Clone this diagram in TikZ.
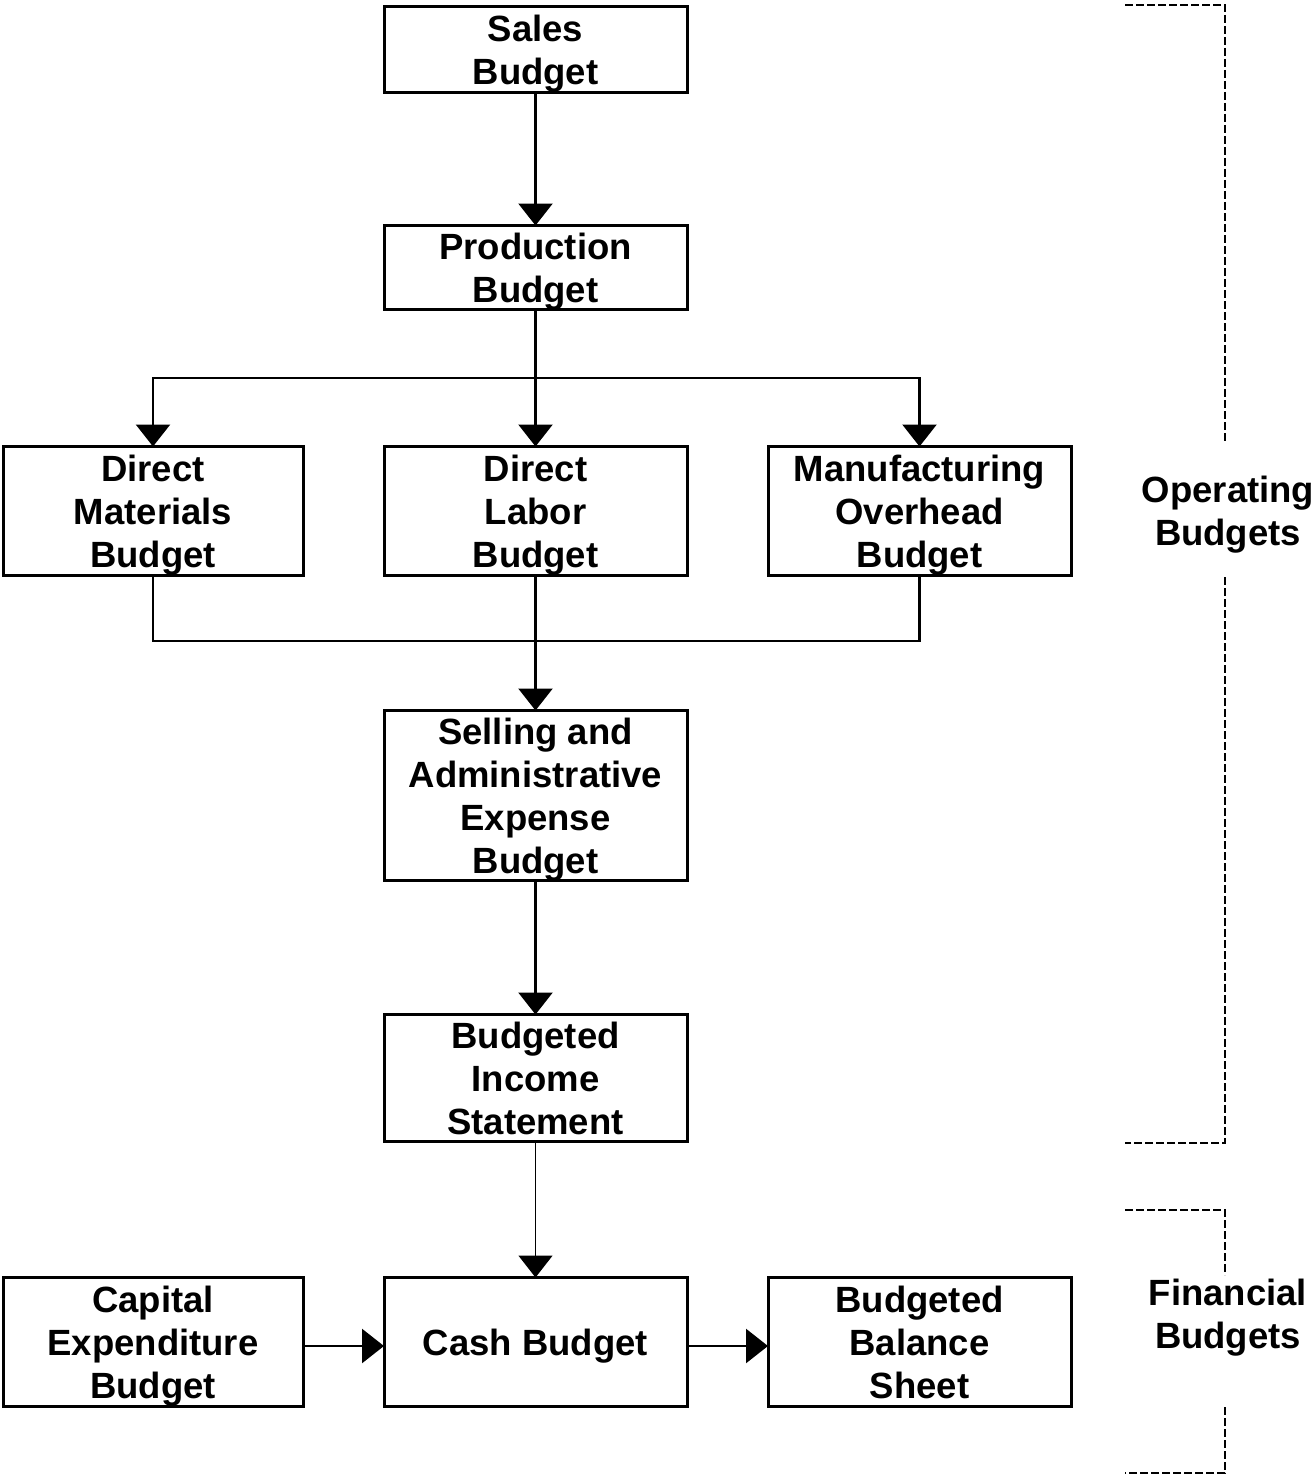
\documentclass[tikz,border=0pt]{standalone}
\usepackage{fontspec}
\setmainfont{Liberation Sans}
\usetikzlibrary{arrows.meta,positioning}

\begin{document}
\begin{tikzpicture}[x=1pt,y=-1pt]

\tikzset{
  blk/.style    = {draw, line width=3pt, inner sep=0pt, outer sep=0pt, align=center,
                   minimum width=303pt, text depth=0pt,
                   font=\fontsize{36.5}{43}\selectfont\bfseries},
  flow/.style   = {-{Triangle[length=22pt,width=34pt]}, line width=2.5pt},
  conn/.style   = {line width=2.5pt},
  bracket/.style= {dash pattern=on 8pt off 3pt, line width=2pt},
  side/.style   = {align=center, inner sep=0pt, text depth=0pt,
                   font=\fontsize{36.5}{43}\selectfont\bfseries},
}

\useasboundingbox (0,0) rectangle (1316,1474);

\node[blk, minimum height=86pt] (sales) at (535.5,49.5) {Sales\\Budget};
\node[blk, minimum height=84pt] (prod) at (535.5,267.5) {Production\\Budget};
\node[blk, minimum width=300pt, minimum height=129pt] (dm) at (153,511) {Direct\\Materials\\Budget};
\node[blk, minimum height=129pt] (dl) at (535.5,511) {Direct\\Labor\\Budget};
\node[blk, minimum height=129pt] (mo) at (919.5,511) {Manufacturing\\Overhead\\Budget};
\node[blk, minimum height=170pt] (sa) at (535.5,795.5) {Selling and\\Administrative\\Expense\\Budget};
\node[blk, minimum height=127pt] (bis) at (535.5,1078) {Budgeted\\Income\\Statement};
\node[blk, minimum width=300pt, minimum height=129pt] (cap) at (153,1342) {Capital\\Expenditure\\Budget};
\node[blk, minimum height=129pt] (cash) at (535.5,1342) {Cash Budget};
\node[blk, minimum height=129pt] (bbs) at (919.5,1342) {Budgeted\\Balance\\Sheet};

\coordinate (fork) at (535.5,378);
\coordinate (join) at (535.5,641);

% operating flow
\draw[flow] (sales.south) -- (prod.north);
\draw[conn] (prod.south) -- (fork);
\draw[flow] (fork) -| (dm.north);
\draw[flow] (fork) -| (mo.north);
\draw[flow] (fork) -- (dl.north);
\draw[conn] (dm.south) |- (join);
\draw[conn] (mo.south) |- (join);
\draw[flow] (dl.south) -- (sa.north);
\draw[flow] (sa.south) -- (bis.north);

% financial flow
\draw[flow, line width=1.5pt] (bis.south) -- (cash.north);
\draw[flow] ([yshift=-4pt]cap.east) -- ([yshift=-4pt]cash.west);
\draw[flow] ([yshift=-4pt]cash.east) -- ([yshift=-4pt]bbs.west);

% side brackets
\node[side] (oplbl) at (1228,511) {Operating\\Budgets};
\node[side] (fnlbl) at (1228,1314) {Financial\\Budgets};
\draw[bracket] (1125,5) -- (1225,5) -- (1225,443);
\draw[bracket] (1225,577) -- (1225,1143) -- (1125,1143);
\draw[bracket] (1125,1210) -- (1225,1210) -- (1225,1275);
\draw[bracket] (1225,1407) -- (1225,1473) -- (1125,1473);
\end{tikzpicture}
\end{document}
